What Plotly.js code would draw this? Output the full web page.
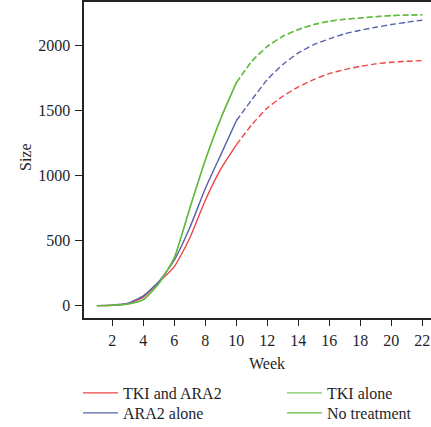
<!DOCTYPE html>
<html>
<head>
<meta charset="utf-8">
<script src="https://cdn.plot.ly/plotly-3.0.1.min.js"></script>
<style>
  html, body { margin: 0; padding: 0; background: #fff; overflow: hidden; }
  #chart { width: 431px; height: 427px; }
</style>
</head>
<body>
<div id="chart"></div>
<script>
// ---- data ----
const weeks = [1, 2, 3, 4, 5, 6, 7, 8, 9, 10, 11, 12, 13, 14, 15, 16, 17, 18, 19, 20, 21, 22];
const tkiAndAra2 = [0, 3, 15, 65, 180, 300, 520, 810, 1050, 1235, 1390, 1518, 1608, 1680, 1736, 1782, 1813, 1838, 1857, 1869, 1877, 1882];
const ara2Alone  = [0, 4, 18, 75, 185, 350, 600, 900, 1160, 1420, 1582, 1736, 1852, 1941, 2005, 2049, 2088, 2115, 2138, 2159, 2177, 2192];
const tkiAlone   = [0, 2, 12, 46, 171, 368, 748, 1118, 1438, 1711, 1875, 1990, 2067, 2120, 2158, 2184, 2199, 2209, 2219, 2227, 2231, 2233];
const noTreatment= [0, 2, 12, 45, 170, 370, 750, 1120, 1440, 1713, 1877, 1992, 2069, 2121, 2159, 2185, 2200, 2210, 2220, 2228, 2232, 2234];
const seriesNames = ["TKI and ARA2", "ARA2 alone", "TKI alone", "No treatment"];
const xTicks = [2, 4, 6, 8, 10, 12, 14, 16, 18, 20, 22];
const yTicks = [0, 500, 1000, 1500, 2000];
const observedUntilWeek = 10;

const colors = ["#ee4447", "#5561ad", "#7cc65c", "#62bb40"];
const seriesValues = [tkiAndAra2, ara2Alone, tkiAlone, noTreatment];
const legendIds = ["legend", "legend2", "legend3", "legend4"];
const FONT = "Liberation Serif, Times New Roman, serif";
const TXT = "#1f1f2a";

const cut = weeks.indexOf(observedUntilWeek);
const traces = [];
seriesNames.forEach((name, i) => {
  traces.push({
    x: weeks.slice(cut), y: seriesValues[i].slice(cut),
    type: "scatter", mode: "lines", name: name,
    line: {color: colors[i], width: 1.4, dash: "6px,3px", shape: "spline", smoothing: 0.5},
    showlegend: false, hoverinfo: "skip"
  });
});
seriesNames.forEach((name, i) => {
  traces.push({
    x: weeks.slice(0, cut + 1), y: seriesValues[i].slice(0, cut + 1),
    type: "scatter", mode: "lines", name: name, legend: legendIds[i],
    line: {color: colors[i], width: 1.4, shape: "spline", smoothing: 0.5},
    showlegend: true, hoverinfo: "skip"
  });
});

const legendBase = {
  orientation: "v", xref: "container", yref: "container",
  xanchor: "left", yanchor: "top", traceorder: "normal", itemwidth: 35,
  font: {family: FONT, size: 16, color: TXT},
  bgcolor: "rgba(0,0,0,0)", tracegroupgap: 0
};
// legend boxes: [left, top] in page pixels
const legendBoxes = [[78, 376], [78, 396], [282, 376], [282, 396]];

const layout = {
  width: 431, height: 427,
  margin: {l: 84, r: 0, t: 2, b: 109, autoexpand: false},
  paper_bgcolor: "#fff", plot_bgcolor: "#fff",
  font: {family: FONT, size: 16, color: TXT},
  showlegend: true,
  xaxis: {
    range: [0.17, 22.56], tickvals: xTicks, ticktext: xTicks.map(String),
    showgrid: false, zeroline: false,
    showline: true, mirror: true, linecolor: "#222", linewidth: 1.6,
    ticks: "outside", ticklen: 6, tickwidth: 1.3, tickcolor: "#222",
    ticklabelstandoff: 1,
    tickfont: {family: FONT, size: 16, color: TXT}
  },
  yaxis: {
    range: [-95, 2332], tickvals: yTicks, ticktext: yTicks.map(String),
    showgrid: false, zeroline: false,
    showline: true, linecolor: "#222", linewidth: 1.6,
    ticks: "outside", ticklen: 7, tickwidth: 1.3, tickcolor: "#222",
    ticklabelstandoff: 2,
    tickfont: {family: FONT, size: 16, color: TXT}
  },
  annotations: [{
    text: "Week", xref: "x", x: 12, yref: "paper", y: 0, yshift: -45,
    showarrow: false, xanchor: "center", yanchor: "middle",
    font: {family: FONT, size: 16, color: TXT}
  }, {
    text: "Size", xref: "paper", x: 0, xshift: -59, yref: "paper", y: 0.5, yshift: 3,
    textangle: -90, showarrow: false, xanchor: "center", yanchor: "middle",
    font: {family: FONT, size: 16, color: TXT}
  }]
};
legendIds.forEach((id, i) => {
  layout[id] = Object.assign({}, legendBase, {
    x: legendBoxes[i][0] / 431, y: 1 - legendBoxes[i][1] / 427
  });
});

Plotly.newPlot("chart", traces, layout, {displayModeBar: false, staticPlot: true});
</script>
</body>
</html>
